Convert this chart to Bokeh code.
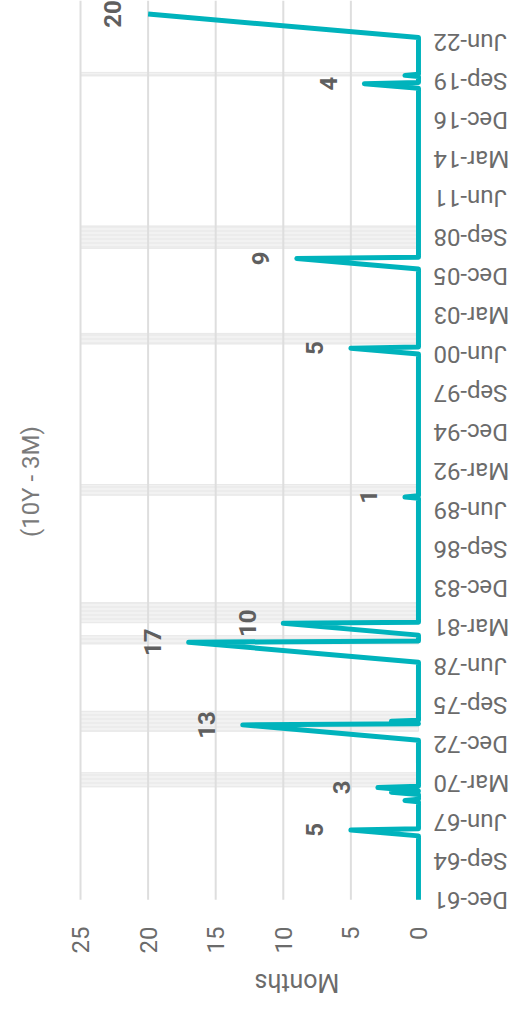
import math
from bokeh.plotting import figure
from bokeh.models import Range1d, FixedTicker, ColumnDataSource
from bokeh.embed import file_html
from bokeh.resources import INLINE
from bokeh.core.properties import value

# ---- data ----
tick_labels = ["Dec-61", "Sep-64", "Jun-67", "Mar-70", "Dec-72", "Sep-75", "Jun-78",
               "Mar-81", "Dec-83", "Sep-86", "Jun-89", "Mar-92", "Dec-94", "Sep-97",
               "Jun-00", "Mar-03", "Dec-05", "Sep-08", "Jun-11", "Mar-14", "Dec-16",
               "Sep-19", "Jun-22"]
value_ticks = [0, 5, 10, 15, 20, 25]

# vertices of the "months of inversion" line (month, count)
line_dates = ["1961-12", "1966-06", "1966-11", "1966-12", "1968-11", "1968-12", "1969-01",
              "1969-05", "1969-07", "1969-08", "1969-11", "1969-12", "1973-03", "1974-04",
              "1974-05", "1974-07", "1974-08", "1978-09", "1980-02", "1980-03", "1980-08",
              "1981-06", "1981-07", "1990-04", "1990-05", "1990-06", "2000-06", "2000-11",
              "2000-12", "2006-06", "2007-03", "2007-04", "2019-03", "2019-07", "2019-08",
              "2020-01", "2020-02", "2020-03", "2022-10", "2024-06"]
line_values = [0, 0, 5, 0, 0, 1, 0,
               0, 2, 0, 3, 0, 0, 13,
               0, 2, 0, 0, 17, 0, 0,
               10, 0, 0, 1, 0, 0, 5,
               0, 0, 9, 0, 0, 4, 0,
               0, 1, 0, 0, 20]

peak_dates = ["1966-11", "1969-11", "1974-04", "1980-02", "1981-06", "1990-05",
              "2000-11", "2007-03", "2019-07", "2024-06"]
peak_values = [5, 3, 13, 17, 10, 1, 5, 9, 4, 20]

recession_start = ["1969-12", "1973-11", "1980-01", "1981-07", "1990-07", "2001-03", "2007-12", "2020-02"]
recession_end = ["1970-11", "1975-03", "1980-07", "1982-11", "1991-03", "2001-11", "2009-06", "2020-04"]

title_text = "(10Y - 3M)"
axis_title = "Months"

# ---- helpers ----
MON = {"Jan": 1, "Feb": 2, "Mar": 3, "Apr": 4, "May": 5, "Jun": 6,
       "Jul": 7, "Aug": 8, "Sep": 9, "Oct": 10, "Nov": 11, "Dec": 12}

def idx(s):
    y, m = s.split("-")
    return (int(y) - 1961) * 12 + int(m) - 12

def lab_idx(s):
    mn, yy = s.split("-")
    y = int(yy)
    y = 1900 + y if y >= 50 else 2000 + y
    return (y - 1961) * 12 + MON[mn] - 12

tick_pos = [lab_idx(s) for s in tick_labels]

TEAL = "#00B3BC"
GRAY_TXT = "#6b6b6b"
FONT = "Roboto"
Y_TOP = 761.4

# frame covers the full width; value axis 25 -> 0 sits inside it
p = figure(width=508, height=1014, x_range=Range1d(30.92, -6.66), y_range=Range1d(-18.5, Y_TOP),
           output_backend="svg", toolbar_location=None,
           min_border_left=0, min_border_right=0, min_border_top=0, min_border_bottom=89)
p.outline_line_color = None
p.background_fill_color = "white"
p.yaxis.visible = False
p.xgrid.visible = False
p.ygrid.visible = False

# recession shading
rs = ColumnDataSource(dict(bottom=[idx(s) - 0.5 for s in recession_start],
                           top=[idx(s) + 0.5 for s in recession_end],
                           left=[25] * len(recession_start), right=[0] * len(recession_start)))
p.quad(left="left", right="right", bottom="bottom", top="top", source=rs,
       fill_color="#f2f2f2", line_color="#e8e8e8", line_width=1,
       hatch_pattern="horizontal_line", hatch_color="#e6e6e6", hatch_scale=4, hatch_weight=1)

# value grid lines (from the first month to the top of the plot)
grid_vals = value_ticks[1:]
p.segment(x0=grid_vals, x1=grid_vals, y0=[0] * len(grid_vals), y1=[Y_TOP] * len(grid_vals),
          line_color="#dedede", line_width=2)

# main line
ls = ColumnDataSource(dict(y=[idx(s) for s in line_dates], x=line_values))
p.line(x="x", y="y", source=ls, line_color=TEAL, line_width=5, line_join="round")

# data labels
ps = ColumnDataSource(dict(y=[idx(s) for s in peak_dates], x=peak_values,
                           t=[str(v) for v in peak_values]))
p.text(x="x", y="y", text="t", source=ps, angle=math.pi / 2, x_offset=-36,
       text_align="center", text_baseline="middle", text_font=value(FONT),
       text_font_style="bold", text_font_size="24px", text_color="#5f5f5f")

# date labels (upside down, right of the zero line)
ds = ColumnDataSource(dict(y=tick_pos, x=[0] * len(tick_pos), t=tick_labels))
p.text(x="x", y="y", text="t", source=ds, angle=math.pi, x_offset=15,
       text_align="right", text_baseline="middle", text_font=value(FONT),
       text_font_size="24px", text_color=GRAY_TXT)

# chart title (vertical)
p.text(x=[28.7], y=[354], text=[title_text], angle=math.pi / 2,
       text_align="center", text_baseline="middle", text_font=value(FONT),
       text_font_size="24px", text_color="#7a7a7a")

# bottom axis (values)
xa = p.xaxis[0]
xa.ticker = FixedTicker(ticks=value_ticks)
xa.major_label_orientation = math.pi / 2
xa.axis_line_color = None
xa.major_tick_line_color = None
xa.minor_tick_line_color = None
xa.major_tick_out = 0
xa.major_tick_in = 0
xa.major_label_standoff = 5
xa.major_label_text_font = FONT
xa.major_label_text_font_size = "24px"
xa.major_label_text_color = GRAY_TXT
xa.axis_label = axis_title
xa.axis_label_orientation = math.pi
xa.axis_label_standoff = 26
xa.axis_label_text_font = FONT
xa.axis_label_text_font_style = "normal"
xa.axis_label_text_font_size = "25px"
xa.axis_label_text_color = GRAY_TXT

open("out.html", "w").write(file_html(p, INLINE))
